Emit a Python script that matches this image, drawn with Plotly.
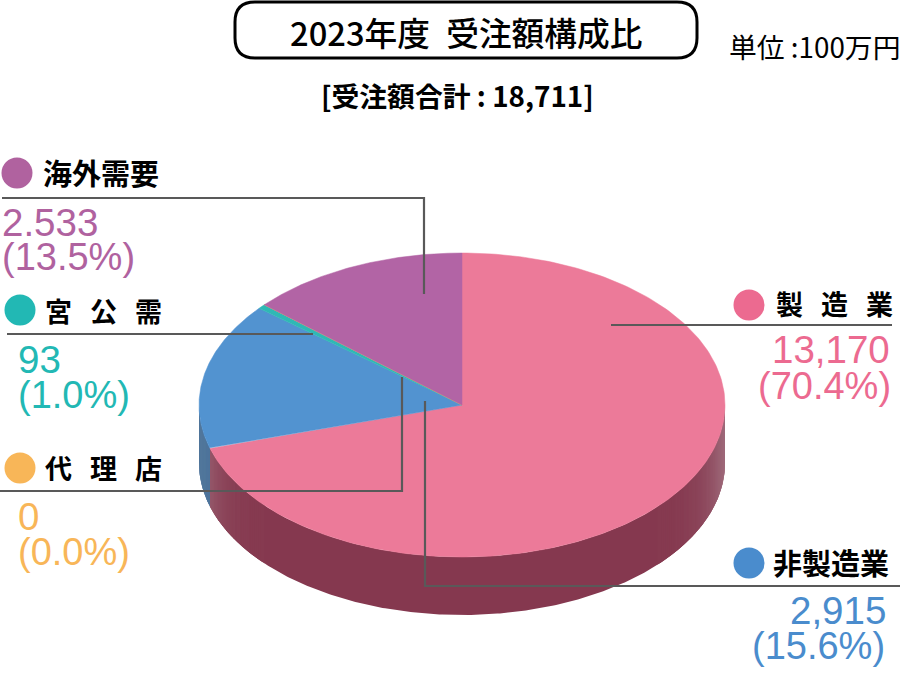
import numpy as np
import plotly.graph_objects as go

categories = ["製造業", "非製造業", "宮公需", "代理店", "海外需要"]
values = [13170, 2915, 93, 0, 2533]
value_labels = ["13,170", "2,915", "93", "0", "2.533"]
pct_labels = ["(70.4%)", "(15.6%)", "(1.0%)", "(0.0%)", "(13.5%)"]
top_colors = ["#ec7a99", "#5293d0", "#2fb8b5", "#f8b658", "#b264a5"]
side_colors = ["#85384f", "#456f98", "#1f7f7c", "#a87a3a", "#6f3f68"]
text_colors = ["#ec6a90", "#4a8ccd", "#22b8b4", "#f8b658", "#b0629f"]

CX, CY, RX, RY, DEPTH = 462, 405, 263, 152, 58
JP = "Noto Sans CJK JP"
NUM = "Liberation Sans"


def ell(theta, dy=0):
    return CX + RX * np.sin(theta), CY - RY * np.cos(theta) + dy


def mix(c, t):
    r, g, b = int(c[1:3], 16), int(c[3:5], 16), int(c[5:7], 16)
    return f"rgb({int(r+(200-r)*t)},{int(g+(190-g)*t)},{int(b+(195-b)*t)})"


def wall(a0, a1, col):
    seg = np.linspace(a0, a1, max(3, int((a1 - a0) / 0.01)))
    xt, yt = ell(seg)
    xb, yb = ell(seg[::-1], DEPTH)
    fig.add_trace(go.Scatter(
        x=list(xt) + list(xb), y=list(yt) + list(yb), mode="lines", fill="toself",
        fillcolor=col, line=dict(color=col, width=0), hoverinfo="skip", showlegend=False))


fig = go.Figure()
total = sum(values)
edges = np.concatenate([[0], np.cumsum(values)]) / total * 2 * np.pi

# side wall: a plain base, then lighter bands toward the silhouette edges
for i in range(len(values)):
    a0, a1 = max(edges[i], np.pi / 2), min(edges[i + 1], 3 * np.pi / 2)
    if a1 <= a0:
        continue
    wall(a0, a1, side_colors[i])
    th = np.linspace(a0, a1, int((a1 - a0) / 0.012) + 1)
    strength = 0.42 if i == 0 else 0.12
    for j in range(len(th) - 1):
        mid = (th[j] + th[j + 1]) / 2
        t = strength * abs(np.sin(mid)) ** 14
        if i == 0 and mid > np.pi:
            t = max(t, 0.2 * np.exp(-(a1 - mid) / 0.07))
        t = round(t / 0.015) * 0.015
        if t > 0:
            wall(th[j], min(th[j + 1] + 0.012, a1), mix(side_colors[i], t))

# top face
for i in range(len(values)):
    th = np.linspace(edges[i], edges[i + 1], 240)
    xt, yt = ell(th)
    fig.add_trace(go.Scatter(
        x=[CX] + list(xt) + [CX], y=[CY] + list(yt) + [CY], mode="lines", fill="toself",
        fillcolor=top_colors[i], line=dict(color=top_colors[i], width=0.5),
        name=categories[i], hoverinfo="skip", showlegend=False))

# leader lines
leaders = [
    ([611, 892], [325, 325]),
    ([425, 425, 900], [401, 586, 586]),
    ([7, 313], [334, 334]),
    ([0, 402, 402], [491, 491, 377]),
    ([2, 424, 424], [198, 198, 294]),
]
for lx, ly in leaders:
    fig.add_trace(go.Scatter(x=lx, y=ly, mode="lines", line=dict(color="#595959", width=2.2),
                             hoverinfo="skip", showlegend=False))

# legend dots
dots_x = [749, 749, 20, 20, 17]
dots_y = [305, 563, 310, 468, 173]
fig.add_trace(go.Scatter(x=dots_x, y=dots_y, mode="markers",
                         marker=dict(size=31, color=text_colors, line=dict(width=0)),
                         hoverinfo="skip", showlegend=False))


def note(x, y, text, size, color="#000000", anchor="left", family=JP, weight=None):
    fig.add_annotation(x=x, y=y, text=text, showarrow=False, xref="x", yref="y",
                       xanchor=anchor, yanchor="middle",
                       font=dict(size=size, color=color, family=family, weight=weight))


sp = "\u2004\u2004"
names = ["製" + sp + "造" + sp + "業", "非製造業", "宮" + sp + "公" + sp + "需",
         "代" + sp + "理" + sp + "店", "海外需要"]
name_size = [27, 29, 27, 27, 29]
name_pos = [(895, 303, "right"), (891, 562, "right"), (43, 310, "left"), (43, 467, "left"), (41, 172, "left")]
val_pos = [(892, 349, "right"), (888, 610, "right"), (16, 359, "left"), (16, 516, "left"), (0, 222, "left")]
pct_pos = [(893, 386, "right"), (887, 646, "right"), (16, 395, "left"), (16, 552, "left"), (0, 257, "left")]
for i in range(len(categories)):
    x, y, a = name_pos[i]
    note(x, y, "<b>" + names[i] + "</b>", name_size[i], anchor=a)
    x, y, a = val_pos[i]
    note(x, y, value_labels[i], 38.5, text_colors[i], a, NUM)
    x, y, a = pct_pos[i]
    note(x, y, pct_labels[i], 38, text_colors[i], a, NUM)

note(465.5, 31, "2023年度\u2002受注額構成比", 32.7, anchor="center", family="Noto Sans CJK JP Medium")
note(814.5, 46, "単位 :100万円", 27.8, anchor="center")
note(457.5, 95, "<b>[受注額合計 : 18,711]</b>", 27.8, anchor="center")

fig.update_layout(
    width=900, height=698, margin=dict(l=0, r=0, t=0, b=0),
    paper_bgcolor="white", plot_bgcolor="white", showlegend=False,
    xaxis=dict(range=[0, 900], visible=False, fixedrange=True),
    yaxis=dict(range=[698, 0], visible=False, fixedrange=True),
    shapes=[dict(type="path", xref="x", yref="y",
                 path="M 255 2 L 677 2 Q 697 2 697 22 L 697 38 Q 697 58 677 58 L 255 58 "
                      "Q 235 58 235 38 L 235 22 Q 235 2 255 2 Z",
                 line=dict(color="#000000", width=3), fillcolor="rgba(0,0,0,0)")],
)
fig.write_html("out.html", config={"displayModeBar": False},
               post_script="document.body.style.margin='0';")
